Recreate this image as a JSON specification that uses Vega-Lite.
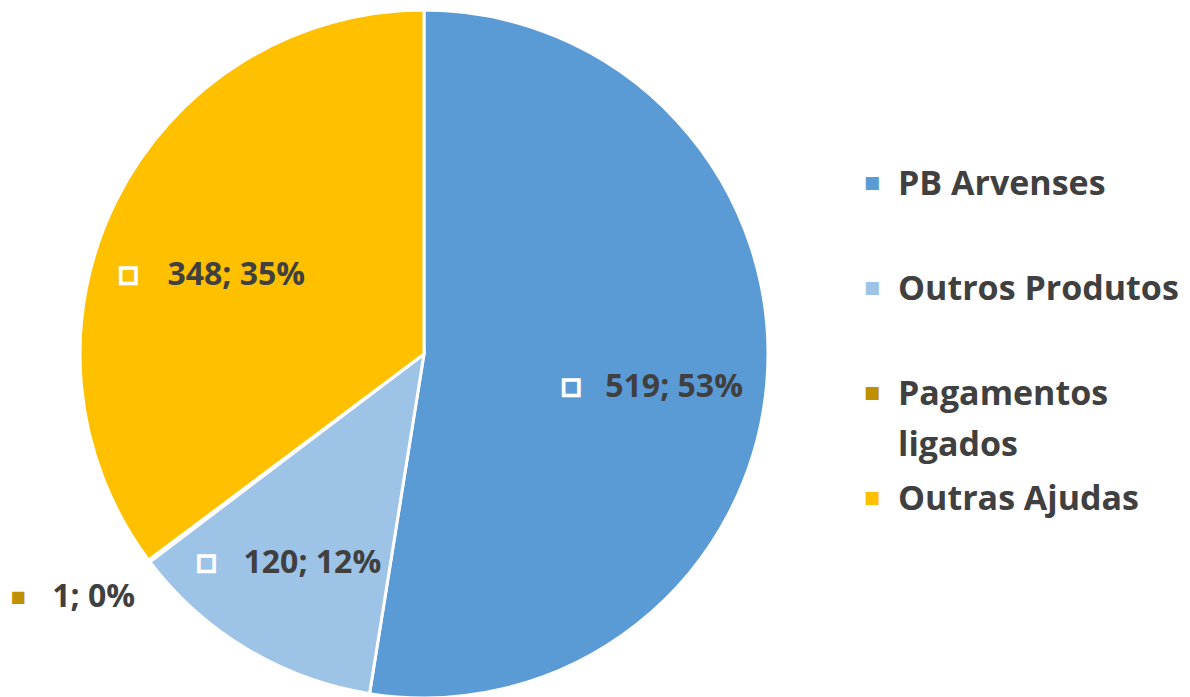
{
  "$schema": "https://vega.github.io/schema/vega-lite/v6.json",
  "padding": 0,
  "autosize": {"type": "pad"},
  "spacing": 0,
  "background": "white",
  "config": {"view": {"stroke": null}},
  "data": {"values": [
    {"idx": 1, "category": "PB Arvenses", "value": 519, "label": "519; 53%"},
    {"idx": 2, "category": "Outros Produtos", "value": 120, "label": "120; 12%"},
    {"idx": 3, "category": "Pagamentos ligados", "value": 1, "label": "1; 0%"},
    {"idx": 4, "category": "Outras Ajudas", "value": 348, "label": "348; 35%"}
  ]},
  "hconcat": [
    {
      "width": 848,
      "height": 708,
      "encoding": {
        "theta": {"field": "value", "type": "quantitative", "stack": true},
        "order": {"field": "idx", "type": "quantitative"},
        "color": {
          "field": "category", "type": "nominal",
          "scale": {"domain": ["PB Arvenses", "Outros Produtos", "Pagamentos ligados", "Outras Ajudas"],
                    "range": ["#5B9BD5", "#9DC3E6", "#BF9000", "#FFC000"]},
          "legend": null
        }
      },
      "layer": [
        {"mark": {"type": "arc", "outerRadius": 344, "stroke": "white", "strokeWidth": 3}},
        {"mark": {"type": "text", "radius": 240, "dx": -92, "dy": 14, "fontSize": 20, "font": "DejaVu Sans", "stroke": "white", "strokeWidth": 3.5},
         "encoding": {"text": {"condition": {"test": "datum.idx != 1", "value": ""}, "value": "■"}}},
        {"mark": {"type": "text", "radius": 240, "dx": -58, "dy": 14, "align": "left", "baseline": "middle", "fontSize": 32, "font": "Open Sans", "fontWeight": "bold"},
         "encoding": {"text": {"field": "label", "condition": {"test": "datum.idx != 1", "value": ""}}, "color": {"value": "#404040"}}},
        {"mark": {"type": "text", "radius": 240, "dx": -94, "dy": 3, "fontSize": 20, "font": "DejaVu Sans", "stroke": "white", "strokeWidth": 3.5},
         "encoding": {"text": {"condition": {"test": "datum.idx != 2", "value": ""}, "value": "■"}}},
        {"mark": {"type": "text", "radius": 240, "dx": -57, "dy": 3, "align": "left", "baseline": "middle", "fontSize": 32, "font": "Open Sans", "fontWeight": "bold"},
         "encoding": {"text": {"field": "label", "condition": {"test": "datum.idx != 2", "value": ""}}, "color": {"value": "#404040"}}},
        {"mark": {"type": "text", "radius": 240, "dx": -81, "dy": 28, "fontSize": 20, "font": "DejaVu Sans", "stroke": "white", "strokeWidth": 3.5},
         "encoding": {"text": {"condition": {"test": "datum.idx != 4", "value": ""}, "value": "■"}}},
        {"mark": {"type": "text", "radius": 240, "dx": -42, "dy": 28, "align": "left", "baseline": "middle", "fontSize": 32, "font": "Open Sans", "fontWeight": "bold"},
         "encoding": {"text": {"field": "label", "condition": {"test": "datum.idx != 4", "value": ""}}, "color": {"value": "#404040"}}},
        {"mark": {"type": "text", "radius": 150, "dx": -286, "dy": 153, "fontSize": 16, "font": "DejaVu Sans"},
         "encoding": {"text": {"condition": {"test": "datum.idx != 3", "value": ""}, "value": "■"}}},
        {"mark": {"type": "text", "radius": 150, "dx": -252, "dy": 153, "align": "left", "baseline": "middle", "fontSize": 32, "font": "Open Sans", "fontWeight": "bold"},
         "encoding": {"text": {"field": "label", "condition": {"test": "datum.idx != 3", "value": ""}}, "color": {"value": "#404040"}}}
      ]
    },
    {
      "width": 342,
      "height": 525,
      "transform": [
        {"calculate": "datum.category == 'Pagamentos ligados' ? ['Pagamentos', 'ligados'] : datum.category", "as": "legendText"}
      ],
      "encoding": {
        "y": {"field": "category", "type": "nominal", "axis": null,
              "scale": {"type": "point", "padding": 1, "domain": ["PB Arvenses", "Outros Produtos", "Pagamentos ligados", "Outras Ajudas"]}}
      },
      "layer": [
        {"mark": {"type": "text", "text": "■", "fontSize": 17, "font": "DejaVu Sans", "baseline": "middle", "dx": -147, "dy": 78},
         "encoding": {"color": {"field": "category", "type": "nominal", "legend": null}}},
        {"mark": {"type": "text", "align": "left", "baseline": "alphabetic", "dx": -121, "dy": 90, "fontSize": 34, "font": "Open Sans", "fontWeight": "bold", "lineHeight": 51},
         "encoding": {"text": {"field": "legendText"}, "color": {"value": "#404040"}}}
      ]
    }
  ]
}
